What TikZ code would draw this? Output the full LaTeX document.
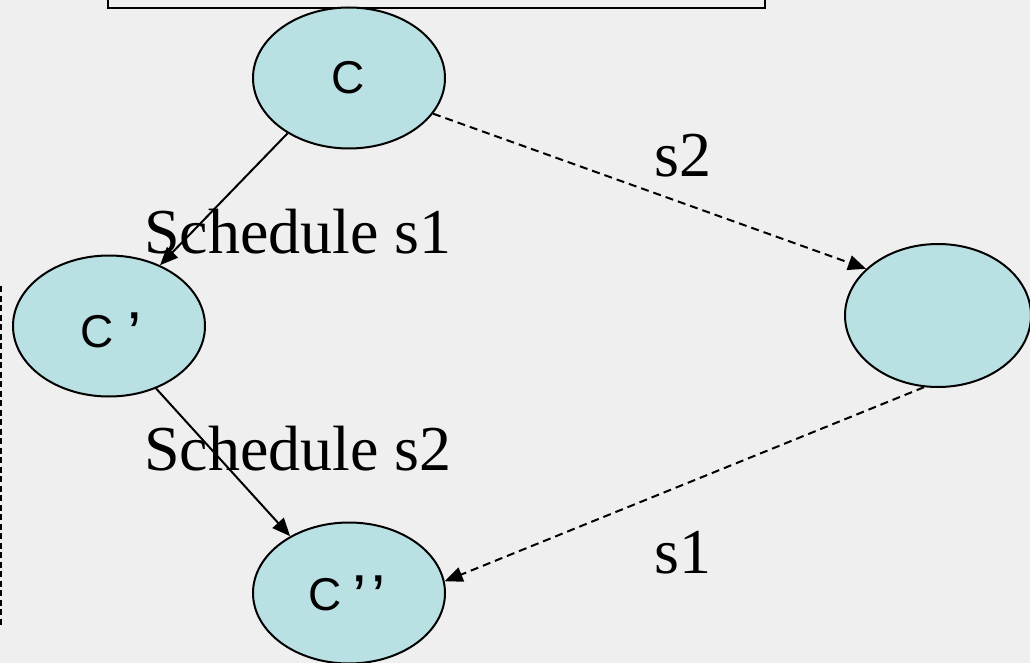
\documentclass[tikz,border=0pt]{standalone}
\usepackage{fontspec}
\usepackage{graphicx}
\setmainfont{Liberation Serif}
\newfontfamily\labfont{Liberation Sans}
\usetikzlibrary{shapes.geometric,arrows.meta}
\definecolor{bg}{HTML}{EFEFEF}
\definecolor{blobfill}{HTML}{B9E0E3}
\newcommand{\bigq}{\raisebox{-8pt}{\scalebox{1.4}[1.35]{’}}}
\tikzset{
  blob/.style={ellipse, draw=black, line width=2pt, fill=blobfill, inner sep=0pt, minimum width=192pt, minimum height=141pt},
  lab/.style={font=\labfont\fontsize{46}{46}\selectfont, inner sep=0pt, anchor=base west},
  sched/.style={font=\fontsize{64}{64}\selectfont, inner sep=0pt, anchor=base west},
  conn/.style={line width=2pt, -{Triangle[length=18pt,width=15pt]}},
  dconn/.style={conn, dash pattern=on 8pt off 5pt},
}
\begin{document}
\begin{tikzpicture}[x=1pt,y=-1pt]
\path[fill=bg] (0,0) rectangle (1030,663);
\useasboundingbox (0,0) rectangle (1030,663);
\clip (0,0) rectangle (1030,663);
% top box
\draw[line width=2.8pt] (108,-20) rectangle (765,8);
% left dashed line
\coordinate (vt) at (1,286);
\coordinate (vb) at (1,627);
\draw[line width=2pt, dash pattern=on 6pt off 3.5pt] (vt) -- (vb);
% ellipses
\node[blob] (c) at (349,78) {};
\node[blob] (c1) at (109,326) {};
\node[blob] (c2) at (349,593) {};
\node[blob, minimum width=186pt, minimum height=143pt] (r) at (938,315.5) {};
% node labels
\node[lab] (ct) at (331,94) {C};
\node[lab] (c1t) at (80,347) {C\kern14pt\bigq};
\node[lab] (c2t) at (308,610) {C\kern11pt\bigq\kern5pt\bigq};
% connectors
\draw[conn] (c.222.7) -- (c1.50.8);
\draw[conn] (c1.307.9) -- (c2.136.3);
\draw[dconn] (c.337.2) -- (r.147.8);
\draw[dconn] (r.259.7) -- (c2.7.7);
% edge labels
\node[sched] (l1) at (144,253) {Schedule s1};
\node[sched] (l2) at (144,470) {Schedule s2};
\node[sched] (l3) at (654,177) {s2};
\node[sched] (l4) at (654,573) {s1};
\end{tikzpicture}
\end{document}
